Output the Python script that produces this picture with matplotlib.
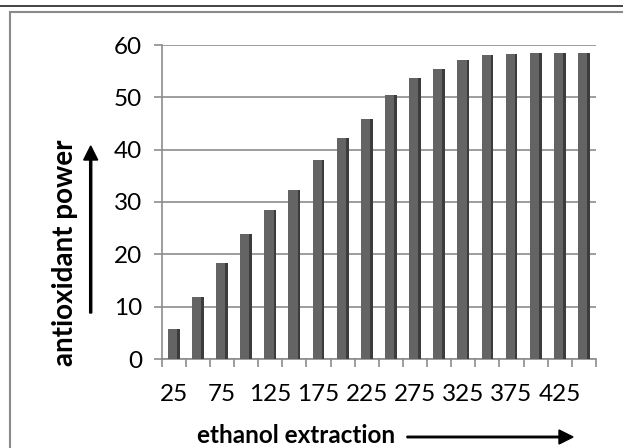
import numpy as np
import matplotlib.pyplot as plt
from matplotlib.lines import Line2D
from matplotlib.patches import Rectangle, FancyArrow

# ethanol extraction steps (every category) and antioxidant power
extraction = [25, 50, 75, 100, 125, 150, 175, 200, 225, 250, 275, 300, 325, 350, 375, 400, 425, 450]
power = [5.8, 11.8, 18.4, 23.9, 28.5, 32.3, 38.0, 42.3, 45.9, 50.5, 53.6, 55.4, 57.1, 58.0, 58.2, 58.5, 58.5, 58.5]
tick_labels = ['25', '75', '125', '175', '225', '275', '325', '375', '425']

plt.rcParams['font.family'] = ['Lato', 'DejaVu Sans']

W, H = 623, 448
fig = plt.figure(figsize=(W / 100, H / 100), dpi=100)
ax = fig.add_axes([161.7 / W, 1 - 359 / H, (596 - 161.7) / W, (359 - 45) / H])

x = np.arange(len(extraction))
face_w = 0.38
side_w = 0.11
ax.bar(x - side_w / 2, power, width=face_w, color='#646464', zorder=3)
ax.bar(x + face_w / 2, power, width=side_w, color='#3c3c3c', zorder=3)

ax.set_xlim(-0.5, len(extraction) - 0.5)
ax.set_ylim(0, 60)
ax.set_yticks(np.arange(0, 61, 10))
ax.yaxis.grid(True, color='#8c8c8c', linewidth=1.2, zorder=0)
ax.set_axisbelow(True)

ax.set_xticks(x[::2])
ax.set_xticklabels(tick_labels)
ax.set_xticks(np.arange(-0.5, len(extraction)), minor=True)

for s in ['top', 'right']:
    ax.spines[s].set_visible(False)
for s in ['left', 'bottom']:
    ax.spines[s].set_color('#8c8c8c')
    ax.spines[s].set_linewidth(1.2)

ax.tick_params(axis='y', which='major', length=6, width=1.2, color='#8c8c8c',
               labelsize=17.5, pad=8, labelcolor='black')
ax.tick_params(axis='x', which='major', length=0, labelsize=17.5, pad=18)
ax.tick_params(axis='x', which='minor', length=6, width=1.2, color='#8c8c8c')

# axis titles with arrows
fig.text(65 / W, 1 - 253 / H, 'antioxidant power', rotation=90, ha='center', va='center',
         fontsize=20, fontweight='bold')
fig.text(296 / W, 1 - 435 / H, 'ethanol extraction', ha='center', va='center',
         fontsize=17.5, fontweight='bold')
fig.patches.append(FancyArrow(
    90.7 / W, 1 - 313 / H, 0, (313 - 160) / H, width=1.5 / H, head_width=14 / W,
    head_length=14 / H, length_includes_head=False, color='black', transform=fig.transFigure))
fig.patches.append(FancyArrow(
    407 / W, 1 - 437 / H, (559 - 407) / W, 0, width=1.5 / H, head_width=14 / H,
    head_length=14 / W, length_includes_head=False, color='black', transform=fig.transFigure))

# chart frame and the rule above it
fig.patches.append(Rectangle((10 / W, -0.1), 1.1, 1 - 12 / H + 0.1, fill=False,
                             edgecolor='#8a8a8a', linewidth=1.5, transform=fig.transFigure))
fig.lines.append(Line2D([0, 1], [1 - 6 / H, 1 - 6 / H], color='#222222', linewidth=1.2,
                        transform=fig.transFigure))

fig.savefig('out.png', dpi=100)
